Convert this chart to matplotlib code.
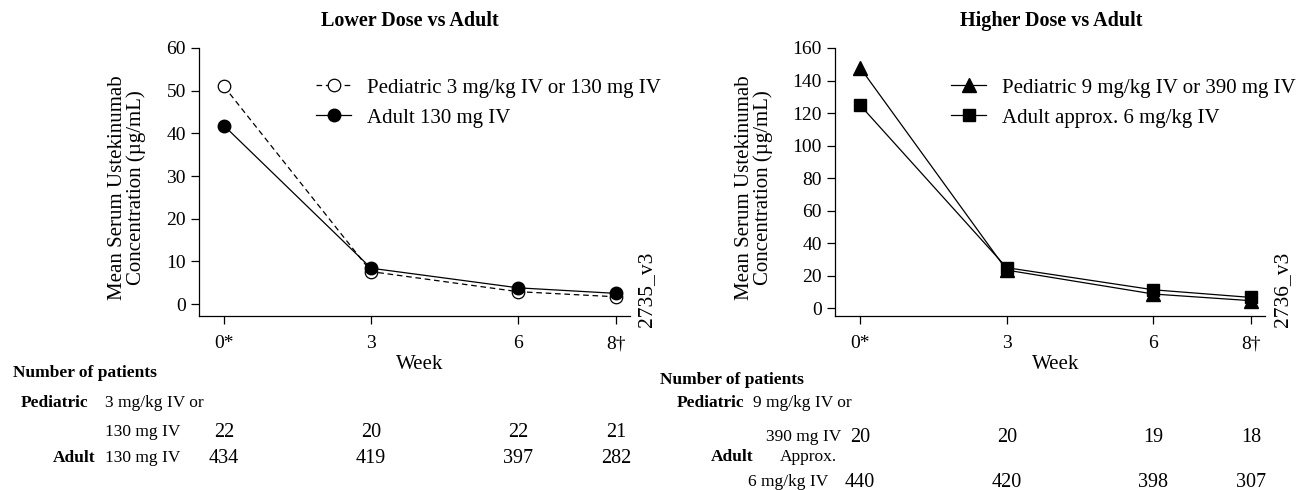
import matplotlib
matplotlib.use("Agg")
import matplotlib.pyplot as plt

plt.rcParams['font.family'] = ['Liberation Serif', 'DejaVu Serif']

weeks = [0, 3, 6, 8]
week_labels = ["0*", "3", "6", "8\u2020"]

low_ped = [51, 7.6, 2.9, 1.7]
low_adult = [41.8, 8.4, 3.8, 2.5]
high_ped = [148, 23.5, 8.8, 4.7]
high_adult = [125, 25, 11.4, 6.7]

low_n_ped = [22, 20, 22, 21]
low_n_adult = [434, 419, 397, 282]
high_n_ped = [20, 20, 19, 18]
high_n_adult = [440, 420, 398, 307]

W, H = 1302, 490
fig = plt.figure(figsize=(W / 100, H / 100), dpi=100)


def px(x, y):
    return x / W, 1 - y / H


def make_axes(x0, x1, ymin, ymax, yticks, ylab_x):
    ax = fig.add_axes([x0 / W, 1 - 316 / H, (x1 - x0) / W, 268 / H])
    ax.set_xlim(-0.51, 8.28)
    ax.set_ylim(ymin, ymax)
    ax.spines['top'].set_visible(False)
    ax.spines['right'].set_visible(False)
    for s in ['left', 'bottom']:
        ax.spines[s].set_linewidth(0.9)
    ax.set_xticks(weeks)
    ax.set_xticklabels(week_labels)
    ax.set_yticks(yticks)
    ax.tick_params(direction='out', length=6, width=0.9, labelsize=14)
    ax.tick_params(axis='x', pad=8)
    ax.tick_params(axis='y', pad=3.5)
    ax.set_xlabel("Week", fontsize=15)
    ax.xaxis.set_label_coords((4 + 0.51) / 8.79, -0.145)
    ax.set_ylabel("Mean Serum Ustekinumab\nConcentration (\u00b5g/mL)", fontsize=15,
                  linespacing=0.95)
    ax.yaxis.set_label_coords((ylab_x - x0) / (x1 - x0), 0.48)
    return ax


leg_kw = dict(bbox_transform=fig.transFigure, loc='upper left', frameon=False,
              fontsize=15, handlelength=1.7, handletextpad=0.75,
              labelspacing=0.5, borderpad=0, borderaxespad=0)

# left panel
ax1 = make_axes(199, 630, -2.8, 60, range(0, 61, 10), 146)
ax1.plot(weeks, low_ped, color='black', lw=0.9, ls=(0, (4.5, 3)), marker='o', ms=9,
         mfc='white', mec='black', mew=0.9, label="Pediatric 3 mg/kg IV or 130 mg IV")
ax1.plot(weeks, low_adult, color='black', lw=0.9, marker='o', ms=9,
         mfc='black', mec='black', label="Adult 130 mg IV")
ax1.legend(bbox_to_anchor=px(316, 78), **leg_kw)
fig.text(*px(410, 21), "Lower Dose vs Adult", ha='center', va='center',
         fontsize=14.5, fontweight='bold')
fig.text(*px(647, 327), "2735_v3", rotation=90, ha='center', va='bottom', fontsize=15.5)

# right panel
ax2 = make_axes(835, 1265, -4.7, 160, range(0, 161, 20), 773)
ax2.plot(weeks, high_ped, color='black', lw=0.9, marker='^', ms=9.5,
         mfc='black', mec='black', label="Pediatric 9 mg/kg IV or 390 mg IV")
ax2.plot(weeks, high_adult, color='black', lw=0.9, marker='s', ms=9,
         mfc='black', mec='black', label="Adult approx. 6 mg/kg IV")
ax2.legend(bbox_to_anchor=px(951, 78), **leg_kw)
fig.text(*px(1051, 21), "Higher Dose vs Adult", ha='center', va='center',
         fontsize=14.5, fontweight='bold')
fig.text(*px(1283, 327), "2736_v3", rotation=90, ha='center', va='bottom', fontsize=15.5)

# patient tables
sm = 12.5
num = 14.5


def tick_x(ax, w):
    return ax.transData.transform((w, 0))[0] / W


fig.text(*px(13, 373), "Number of patients", ha='left', va='center', fontsize=sm, fontweight='bold')
fig.text(*px(88, 403), "Pediatric", ha='right', va='center', fontsize=sm, fontweight='bold')
fig.text(*px(105, 403), "3 mg/kg IV or", ha='left', va='center', fontsize=sm)
fig.text(*px(105, 432), "130 mg IV", ha='left', va='center', fontsize=sm)
fig.text(*px(95, 458), "Adult", ha='right', va='center', fontsize=sm, fontweight='bold')
fig.text(*px(105, 458), "130 mg IV", ha='left', va='center', fontsize=sm)

fig.canvas.draw()
for w, a, b in zip(weeks, low_n_ped, low_n_adult):
    xf = tick_x(ax1, w)
    fig.text(xf, 1 - 432 / H, str(a), ha='center', va='center', fontsize=num)
    fig.text(xf, 1 - 458 / H, str(b), ha='center', va='center', fontsize=num)

fig.text(*px(660, 380), "Number of patients", ha='left', va='center', fontsize=sm, fontweight='bold')
fig.text(*px(744, 403), "Pediatric", ha='right', va='center', fontsize=sm, fontweight='bold')
fig.text(*px(753, 403), "9 mg/kg IV or", ha='left', va='center', fontsize=sm)
fig.text(*px(841, 437), "390 mg IV", ha='right', va='center', fontsize=sm)
fig.text(*px(753, 457), "Adult", ha='right', va='center', fontsize=sm, fontweight='bold')
fig.text(*px(780, 457), "Approx.", ha='left', va='center', fontsize=sm)
fig.text(*px(828, 482), "6 mg/kg IV", ha='right', va='center', fontsize=sm)

for w, a, b in zip(weeks, high_n_ped, high_n_adult):
    xf = tick_x(ax2, w)
    fig.text(xf, 1 - 437 / H, str(a), ha='center', va='center', fontsize=num)
    fig.text(xf, 1 - 482 / H, str(b), ha='center', va='center', fontsize=num)

fig.savefig("out.png", dpi=100)
